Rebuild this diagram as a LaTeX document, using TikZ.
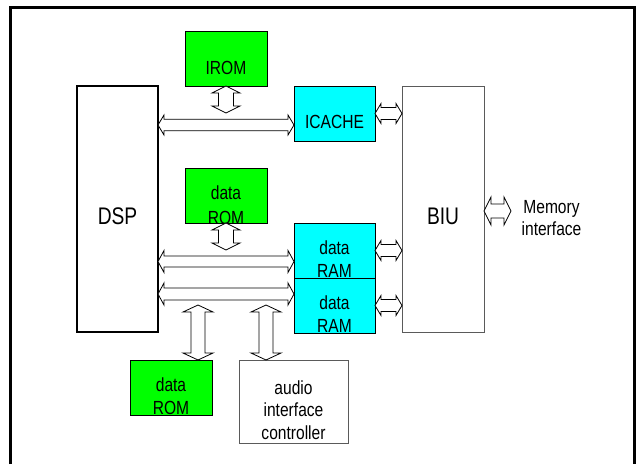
\documentclass[tikz,border=0pt]{standalone}
\usepackage{fontspec}
\setmainfont{Liberation Sans}
\usetikzlibrary{calc}

\definecolor{romgreen}{RGB}{0,255,0}
\definecolor{cachecyan}{RGB}{0,255,255}
\definecolor{edgegray}{RGB}{90,90,90}

% horizontally condensed label text
\newcommand\narrow[1]{\scalebox{0.82}[1]{#1}}
\newcommand\narrowbig[1]{\scalebox{0.8}[1]{#1}}

% hollow double-headed bus arrow between two named points
% #1 start, #2 end, #3 shaft half-width, #4 head half-width, #5 head length
\newcommand\busarrow[5]{%
  \draw[busline] (#1)
    -- ($(#1)!#5!(#2)!#4!90:(#2)$)
    -- ($(#1)!#5!(#2)!#3!90:(#2)$)
    -- ($(#2)!#5!(#1)!#3!-90:(#1)$)
    -- ($(#2)!#5!(#1)!#4!-90:(#1)$)
    -- (#2)
    -- ($(#2)!#5!(#1)!#4!90:(#1)$)
    -- ($(#2)!#5!(#1)!#3!90:(#1)$)
    -- ($(#1)!#5!(#2)!#3!-90:(#2)$)
    -- ($(#1)!#5!(#2)!#4!-90:(#2)$)
    -- cycle;}

\tikzset{
  block/.style={draw=black, line width=0.8pt, inner sep=0pt, outer sep=0pt},
  memblock/.style={block, minimum width=82pt, minimum height=55pt},
  lbl/.style={font=\fontsize{19}{21}\selectfont, inner sep=0pt, anchor=base},
  biglbl/.style={font=\fontsize{24}{27}\selectfont, inner sep=0pt, anchor=base},
  busline/.style={draw=black, line width=0.8pt, fill=white, line join=miter},
}

\begin{document}
\begin{tikzpicture}[x=1pt, y=-1pt]
\useasboundingbox (0,0) rectangle (639,464);

% outer frame
\draw[line width=3pt, line join=miter] (10.5,464) -- (10.5,7.5) -- (634.5,7.5) -- (634.5,464);

% blocks
\node[block, line width=2pt, minimum width=81pt, minimum height=246pt] (dsp) at (117.5,209) {};
\node[block, draw=edgegray, minimum width=82pt, minimum height=246pt] (biu) at (443,209) {};
\node[memblock, fill=romgreen] (irom) at (226,58.5) {};
\node[memblock, fill=cachecyan, minimum width=81pt] (icache) at (334.5,113.5) {};
\node[memblock, fill=romgreen] (roma) at (226,195.5) {};
\node[memblock, fill=cachecyan, minimum width=81pt] (rama) at (334.5,250.5) {};
\node[memblock, fill=cachecyan, minimum width=81pt] (ramb) at (334.5,305.5) {};
\node[memblock, fill=romgreen] (romb) at (171,387.5) {};
\node[block, draw=edgegray, minimum width=109pt, minimum height=83pt] (audio) at (293.5,401.5) {};

% labels
\node[biglbl] (tdsp) at (117.5,224) {\narrowbig{DSP}};
\node[biglbl] (tbiu) at (443,224) {\narrowbig{BIU}};
\node[lbl] (tirom) at (226,74) {\narrow{IROM}};
\node[lbl] (ticache) at (334.5,128) {\narrow{ICACHE}};
\node[lbl] (troma1) at (226,199.5) {\narrow{data}};
\node[lbl] (troma2) at (226,224) {\narrow{ROM}};
\node[lbl] (trama1) at (334.5,254) {\narrow{data}};
\node[lbl] (trama2) at (334.5,277) {\narrow{RAM}};
\node[lbl] (tramb1) at (334.5,309) {\narrow{data}};
\node[lbl] (tramb2) at (334.5,332) {\narrow{RAM}};
\node[lbl] (tromb1) at (171,391) {\narrow{data}};
\node[lbl] (tromb2) at (171,414) {\narrow{ROM}};
\node[lbl] (taudio1) at (293.5,394) {\narrow{audio}};
\node[lbl] (taudio2) at (293.5,416) {\narrow{interface}};
\node[lbl] (taudio3) at (293.5,439) {\narrow{controller}};
\node[lbl] (tmem1) at (551.5,213) {\narrow{Memory}};
\node[lbl] (tmem2) at (551.5,235) {\narrow{interface}};

% bus end points
\coordinate (busA) at (dsp.east |- 0,125);
\coordinate (busAe) at (icache.west |- 0,125);
\coordinate (bus1) at (dsp.east |- 0,261.5);
\coordinate (bus1e) at (rama.west |- 0,261.5);
\coordinate (bus2) at (dsp.east |- 0,294);
\coordinate (bus2e) at (ramb.west |- 0,294);
\coordinate (iromb) at (226,113);
\coordinate (romab) at (226,250);
\coordinate (romt) at (198,305);
\coordinate (romtb) at (romt |- romb.north);
\coordinate (audt) at (266,305);
\coordinate (audtb) at (audt |- audio.north);
\coordinate (cb) at (icache.east);
\coordinate (cbe) at (biu.west |- icache.east);
\coordinate (r1b) at (rama.east);
\coordinate (r1be) at (biu.west |- rama.east);
\coordinate (r2b) at (ramb.east);
\coordinate (r2be) at (biu.west |- ramb.east);
\coordinate (memb) at (biu.east |- 0,211);
\coordinate (mem) at (511,211);

% buses between blocks
\busarrow{busA}{busAe}{5.7pt}{10pt}{6pt}
\busarrow{bus1}{bus1e}{5.5pt}{11pt}{6pt}
\busarrow{bus2}{bus2e}{6pt}{11pt}{6pt}
\busarrow{irom.south}{iromb}{7.5pt}{14pt}{7pt}
\busarrow{roma.south}{romab}{7.5pt}{14pt}{7pt}
\busarrow{romt}{romtb}{7pt}{15pt}{7pt}
\busarrow{audt}{audtb}{7pt}{15pt}{7pt}
\busarrow{cb}{cbe}{6pt}{10pt}{6pt}
\busarrow{r1b}{r1be}{6pt}{10pt}{6pt}
\busarrow{r2b}{r2be}{6pt}{10pt}{6pt}
\busarrow{memb}{mem}{7pt}{14pt}{7pt}
\end{tikzpicture}
\end{document}
